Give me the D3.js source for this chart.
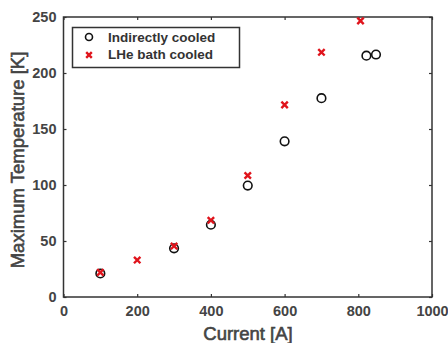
<!DOCTYPE html>
<html>
<head>
<meta charset="utf-8">
<script src="https://cdn.jsdelivr.net/npm/d3@7"></script>
<style>
  body { margin: 0; background: #fff; }
  text { font-family: "Liberation Sans", Arial, sans-serif; }
</style>
</head>
<body>
<svg width="448" height="343"></svg>
<script>
// data
var indirectCurrent = [100, 300, 400, 500, 600, 700, 822, 848];
var indirectTemp = [21, 43.5, 64.5, 99.5, 139, 177.5, 215.5, 216.5];
var bathCurrent = [100, 200, 300, 400, 500, 600, 700, 806];
var bathTemp = [22, 33, 45.5, 68.5, 108.5, 171.5, 218.5, 246.5];
var xTicks = [0, 200, 400, 600, 800, 1000];
var yTicks = [0, 50, 100, 150, 200, 250];
var seriesNames = ['Indirectly cooled', 'LHe bath cooled'];

var svg = d3.select('svg');
var margin = {left: 63.5, right: 16, top: 17, bottom: 46};
var W = 448, H = 343;

var x = d3.scaleLinear().domain([0, 1000]).range([margin.left, W - margin.right]);
var y = d3.scaleLinear().domain([0, 250]).range([H - margin.bottom, margin.top]);

var axisColor = '#333';

// bottom axis (ticks inside)
svg.append('g')
    .attr('transform', 'translate(0,' + y(0) + ')')
    .call(d3.axisBottom(x).tickValues(xTicks).tickSize(-3).tickPadding(9).tickFormat(d3.format('d')));
// left axis
svg.append('g')
    .attr('transform', 'translate(' + x(0) + ',0)')
    .call(d3.axisLeft(y).tickValues(yTicks).tickSize(-3).tickPadding(7));
// top and right ticks
svg.append('g')
    .attr('transform', 'translate(0,' + y(250) + ')')
    .call(d3.axisTop(x).tickValues(xTicks).tickSize(-3).tickFormat(''));
svg.append('g')
    .attr('transform', 'translate(' + x(1000) + ',0)')
    .call(d3.axisRight(y).tickValues(yTicks).tickSize(-3).tickFormat(''));

svg.selectAll('.domain').remove();
svg.selectAll('.tick line').attr('stroke', axisColor).attr('stroke-width', 1.2);
svg.selectAll('.tick text')
    .attr('fill', '#444')
    .style('font-size', '14.5px')
    .style('font-weight', 'bold');

// box
svg.append('rect')
    .attr('x', x(0)).attr('y', y(250))
    .attr('width', x(1000) - x(0)).attr('height', y(0) - y(250))
    .attr('fill', 'none').attr('stroke', axisColor).attr('stroke-width', 1.5);

// axis labels
svg.append('text')
    .attr('x', 248).attr('y', 340)
    .attr('text-anchor', 'middle')
    .attr('fill', '#444').attr('stroke', '#444').attr('stroke-width', 0.6)
    .style('font-size', '18.5px')
    .text('Current [A]');
svg.append('text')
    .attr('transform', 'translate(24,160) rotate(-90)')
    .attr('text-anchor', 'middle')
    .attr('fill', '#444').attr('stroke', '#444').attr('stroke-width', 0.6)
    .style('font-size', '18.5px')
    .text('Maximum Temperature [K]');

// markers
function cross(g, cx, cy, s) {
    g.append('path')
        .attr('d', 'M' + (cx - s) + ',' + (cy - s) + 'L' + (cx + s) + ',' + (cy + s) +
            'M' + (cx - s) + ',' + (cy + s) + 'L' + (cx + s) + ',' + (cy - s))
        .attr('stroke', '#e0141c').attr('stroke-width', 2.4).attr('fill', 'none');
}

var circles = svg.append('g');
circles.selectAll('circle')
    .data(indirectCurrent)
    .enter()
    .append('circle')
    .attr('cx', function(d) { return x(d); })
    .attr('cy', function(d, i) { return y(indirectTemp[i]); })
    .attr('r', 4.3)
    .attr('fill', 'none')
    .attr('stroke', '#111')
    .attr('stroke-width', 1.6);

var crosses = svg.append('g');
bathCurrent.forEach(function(d, i) {
    cross(crosses, x(d), y(bathTemp[i]), 3.2);
});

// legend
var lg = svg.append('g');
lg.append('rect')
    .attr('x', 72.5).attr('y', 27.5).attr('width', 167).attr('height', 40)
    .attr('fill', '#fff').attr('stroke', axisColor).attr('stroke-width', 1.5);
lg.append('circle')
    .attr('cx', 89).attr('cy', 37).attr('r', 3.5)
    .attr('fill', 'none').attr('stroke', '#111').attr('stroke-width', 1.6);
cross(lg, 89, 55, 2.8);
lg.selectAll('text.leg')
    .data(seriesNames)
    .enter()
    .append('text')
    .attr('class', 'leg')
    .attr('x', 108)
    .attr('y', function(d, i) { return 41.5 + i * 17.5; })
    .attr('fill', '#333')
    .style('font-size', '13.5px').style('font-weight', 'bold')
    .text(function(d) { return d; });
</script>
</body>
</html>
